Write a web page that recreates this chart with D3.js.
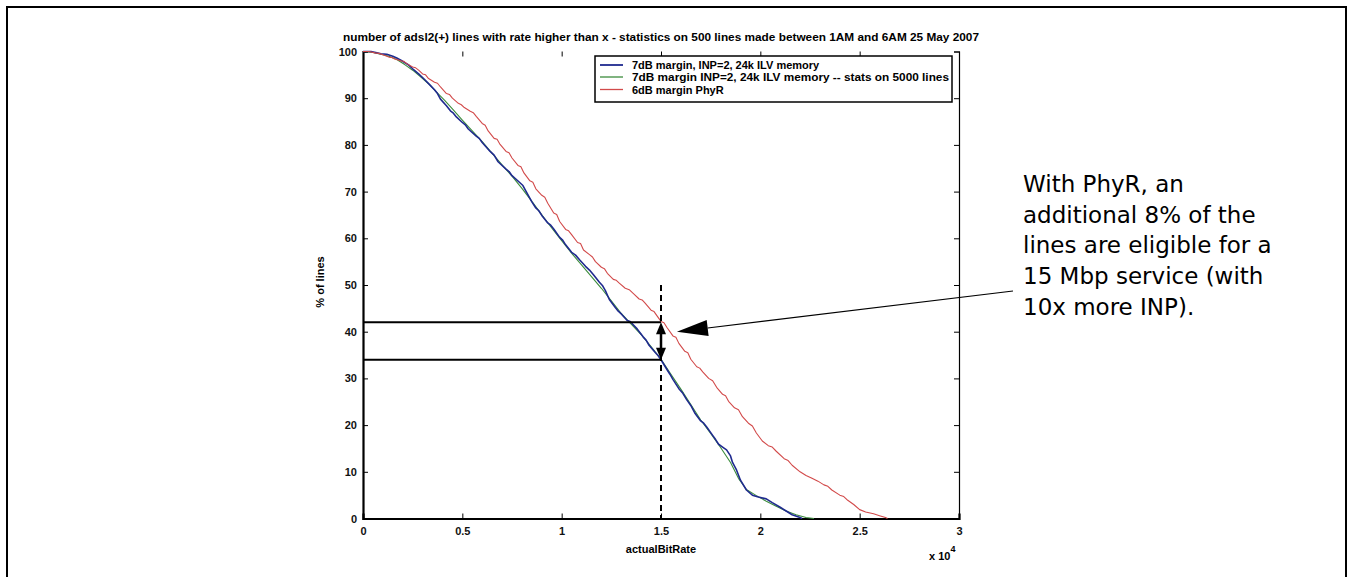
<!DOCTYPE html>
<html>
<head>
<meta charset="utf-8">
<script src="https://cdn.jsdelivr.net/npm/d3@7"></script>
<style>
  body { margin: 0; background: #fff; }
  svg { display: block; }
</style>
</head>
<body>
<script>
// data: [actualBitRate, % of lines with rate higher than x]
const blueSeries = [[0,100],[400,100],[700,99.7],[900,99.5],[1200,99.4],[1500,99.0],[1700,98.6],[2000,97.9],[2300,97.1],[2500,96.3],[2800,95.2],[3100,94.0],[3400,92.7],[3600,91.8],[3750,91.0],[3900,89.8],[4200,88.4],[4400,87.3],[4550,86.8],[4700,86.0],[5000,84.8],[5150,84.3],[5300,83.4],[5700,81.9],[5850,81.4],[6000,80.5],[6400,78.6],[6600,77.8],[6800,76.4],[7200,74.8],[7350,74.3],[7500,73.4],[7900,71.9],[8050,71.3],[8200,70.1],[8500,67.8],[8700,66.5],[8850,65.9],[9000,64.9],[9300,63.3],[9450,62.8],[9600,62.0],[9900,60.2],[10050,59.6],[10200,58.6],[10500,57.0],[10700,56.4],[10900,55.4],[11200,54.0],[11400,53.2],[11600,52.2],[11900,50.6],[12050,49.9],[12200,48.8],[12400,46.9],[12700,45.2],[12850,44.4],[13000,43.8],[13300,42.4],[13450,42.2],[13600,41.5],[13800,40.6],[14100,38.9],[14250,38.2],[14400,37.1],[14700,35.6],[14850,34.9],[15000,34.0],[15300,31.9],[15450,30.9],[15600,29.8],[15900,27.8],[16100,26.8],[16300,25.4],[16500,24.2],[16700,22.6],[17000,20.9],[17150,20.4],[17300,19.6],[17600,17.8],[17750,16.9],[17900,15.9],[18100,15.3],[18300,14.7],[18500,13.4],[18600,12.0],[18800,10.4],[19000,8.2],[19300,6.1],[19600,5.0],[19900,4.6],[20300,4.2],[20600,3.4],[21000,2.4],[21300,1.6],[21600,0.8],[22000,0.2],[22100,0]];

const greenSeries = [[0,100],[500,99.8],[900,99.4],[1300,99.0],[1700,98.3],[2100,97.2],[2500,96.0],[2900,94.6],[3300,93.1],[3700,91.3],[4100,89.6],[4500,87.7],[5000,85.3],[5500,83.0],[6000,80.7],[6500,78.2],[7000,75.7],[7500,73.3],[8000,70.7],[8500,67.9],[9000,65.0],[9500,62.2],[10000,59.5],[10500,56.8],[11000,54.3],[11500,51.8],[12000,49.3],[12500,46.6],[13000,43.9],[13500,41.6],[14000,39.4],[14500,36.8],[15000,34.1],[15500,30.9],[16000,27.7],[16500,24.4],[17000,21.1],[17500,18.2],[18000,15.2],[18500,12.0],[18900,8.6],[19300,6.2],[19800,4.9],[20300,3.7],[20800,2.6],[21300,1.6],[21800,0.8],[22300,0.2],[22700,0]];

const redSeries = [[0,100],[300,100],[600,99.7],[800,99.6],[1000,99.3],[1300,98.8],[1450,98.7],[1600,98.4],[1900,98.0],[2050,97.9],[2200,97.4],[2500,96.7],[2650,96.5],[2800,96.0],[3000,95.2],[3150,95.0],[3300,94.2],[3600,93.4],[3750,93.2],[3900,92.4],[4200,91.0],[4350,90.8],[4500,90.0],[4800,88.9],[4950,88.6],[5100,88.0],[5400,87.2],[5550,86.9],[5700,86.1],[6000,84.6],[6150,84.2],[6300,83.0],[6600,81.4],[6750,81.2],[6900,80.1],[7200,78.6],[7350,78.3],[7500,77.2],[7800,75.6],[7950,75.3],[8100,74.0],[8400,72.3],[8550,72.0],[8700,70.6],[9000,69.2],[9150,68.8],[9300,67.5],[9600,65.4],[9750,65.1],[9900,63.6],[10200,61.9],[10350,61.6],[10500,60.8],[10800,59.1],[10950,58.9],[11100,57.5],[11400,56.5],[11550,56.0],[11700,55.0],[12000,53.8],[12150,53.5],[12300,52.5],[12600,51.2],[12750,51.0],[12900,50.4],[13200,49.3],[13400,49.0],[13600,48.2],[13900,47.0],[14050,46.8],[14200,46.1],[14500,44.6],[14650,44.3],[14800,43.4],[15000,42.2],[15150,41.9],[15300,40.9],[15600,39.1],[15750,38.8],[15900,37.5],[16200,35.8],[16350,35.5],[16500,34.1],[16800,32.5],[16950,32.2],[17100,31.4],[17400,30.0],[17600,29.5],[17800,28.1],[18100,26.6],[18250,26.3],[18400,25.1],[18700,23.7],[18900,23.3],[19100,21.8],[19400,20.4],[19600,19.8],[19800,18.3],[20100,16.6],[20400,15.6],[20600,15.3],[20800,14.4],[21200,12.8],[21400,12.4],[21600,11.4],[22000,10.0],[22300,9.2],[22600,8.6],[22900,8.0],[23200,7.2],[23400,6.9],[23600,6.1],[24000,5.0],[24200,4.7],[24400,3.9],[24700,3.0],[25000,1.9],[25300,1.4],[25700,1.0],[26000,0.6],[26300,0.2],[26400,0]];

const legendLabels = [
  "7dB margin, INP=2, 24k ILV memory",
  "7dB margin INP=2, 24k ILV memory -- stats on 5000 lines",
  "6dB margin PhyR"
];
const seriesColors = ["#1f2a8f", "#3c8c3c", "#d24a4a"];

const xTickValues = [0, 5000, 10000, 15000, 20000, 25000, 30000];
const xTickLabels = ["0", "0.5", "1", "1.5", "2", "2.5", "3"];
const yTickValues = [0, 10, 20, 30, 40, 50, 60, 70, 80, 90, 100];

const refRate = 15000;   // 15 Mbp service
const phyrPct = 42;
const basePct = 34;
const dashTopPct = 50;
const arrowTip = [15800, 40];

const titleText = "number of adsl2(+) lines with rate higher than x - statistics on 500 lines made between 1AM and 6AM 25 May 2007";
const noteLines = ["With PhyR, an", "additional 8% of the", "lines are eligible for a", "15 Mbp service (with", "10x more INP)."];

const W = 1348, H = 577;
const svg = d3.select("body").append("svg").attr("width", W).attr("height", H);

svg.append("rect").attr("width", W).attr("height", H).attr("fill", "#fff");
// outer frame (bottom edge is cut off)
svg.append("path")
  .attr("d", `M7,${H + 5} V7 H1346 V${H + 5}`)
  .attr("fill", "none").attr("stroke", "#000").attr("stroke-width", 2);

const x = d3.scaleLinear().domain([0, 30000]).range([363, 959]);
const y = d3.scaleLinear().domain([0, 100]).range([518.5, 51.5]);

const font = "'Liberation Sans', Arial, sans-serif";

// title
svg.append("text")
  .attr("x", 661).attr("y", 41)
  .attr("text-anchor", "middle")
  .attr("font-family", font).attr("font-size", 11.5).attr("font-weight", "bold")
  .attr("textLength", 636).attr("lengthAdjust", "spacingAndGlyphs")
  .text(titleText);

// axes, matlab style ticks inward
const gx = svg.append("g").attr("transform", `translate(0,${y(0)})`)
  .call(d3.axisBottom(x).tickValues(xTickValues).tickSize(-5).tickPadding(9)
    .tickFormat((d, i) => xTickLabels[i]));
const gy = svg.append("g").attr("transform", `translate(${x(0)},0)`)
  .call(d3.axisLeft(y).tickValues(yTickValues).tickSize(-5).tickPadding(6));
const gr = svg.append("g").attr("transform", `translate(${x(30000)},0)`)
  .call(d3.axisRight(y).tickValues(yTickValues).tickSize(-5).tickFormat(""));
const gt = svg.append("g").attr("transform", `translate(0,${y(100)})`)
  .call(d3.axisTop(x).tickValues(xTickValues).tickSize(-5).tickFormat(""));
gt.select(".domain").remove();
gr.select(".domain").attr("stroke-width", 1.2);

[gx, gy].forEach(g => {
  g.select(".domain").attr("stroke-width", 2.2);
});
[gx, gy, gr, gt].forEach(g => {
  g.selectAll(".tick line").attr("stroke", "#000").attr("stroke-width", 1);
  g.selectAll("text").attr("font-family", font).attr("font-size", 11)
    .attr("font-weight", "bold").attr("fill", "#111");
});

// axis labels
svg.append("text")
  .attr("transform", `translate(324,282) rotate(-90)`)
  .attr("text-anchor", "middle")
  .attr("font-family", font).attr("font-size", 11).attr("font-weight", "bold")
  .text("% of lines");
svg.append("text")
  .attr("x", x(15000)).attr("y", 553)
  .attr("text-anchor", "middle")
  .attr("font-family", font).attr("font-size", 11).attr("font-weight", "bold")
  .text("actualBitRate");
const mult = svg.append("text")
  .attr("x", 929).attr("y", 560)
  .attr("font-family", font).attr("font-size", 11).attr("font-weight", "bold");
mult.append("tspan").text("x 10");
mult.append("tspan").attr("dy", -8).attr("font-size", 9).text("4");

// series
const line = d3.line().x(d => x(d[0])).y(d => y(d[1]));
const allSeries = [blueSeries, greenSeries, redSeries];
const drawOrder = [1, 0, 2];
const widths = [1.6, 1.1, 1.1];
svg.append("g").attr("fill", "none")
  .selectAll("path")
  .data(drawOrder)
  .join("path")
    .attr("d", i => line(allSeries[i]))
    .attr("stroke", i => seriesColors[i])
    .attr("stroke-width", i => widths[i])
    .attr("stroke-linejoin", "round");

// reference lines at 15 Mbp
svg.append("g").attr("stroke", "#000").attr("stroke-width", 2)
  .selectAll("line")
  .data([phyrPct, basePct])
  .join("line")
    .attr("x1", x(0)).attr("x2", x(refRate))
    .attr("y1", d => y(d)).attr("y2", d => y(d));
svg.append("line")
  .attr("x1", x(refRate)).attr("x2", x(refRate))
  .attr("y1", y(dashTopPct)).attr("y2", y(0))
  .attr("stroke", "#000").attr("stroke-width", 2)
  .attr("stroke-dasharray", "6,4");

// double arrow between the two levels
function head(tip, from, len, half) {
  const dx = tip[0] - from[0], dy = tip[1] - from[1];
  const L = Math.hypot(dx, dy), ux = dx / L, uy = dy / L;
  const bx = tip[0] - ux * len, by = tip[1] - uy * len;
  return [[tip[0], tip[1]], [bx - uy * half, by + ux * half], [bx + uy * half, by - ux * half]];
}
const ax = x(refRate), ay1 = y(phyrPct), ay2 = y(basePct);
svg.append("line")
  .attr("x1", ax).attr("x2", ax).attr("y1", ay1 + 8).attr("y2", ay2 - 8)
  .attr("stroke", "#000").attr("stroke-width", 2.5);
svg.append("g").selectAll("polygon")
  .data([head([ax, ay1], [ax, ay2], 12, 5), head([ax, ay2], [ax, ay1], 12, 5)])
  .join("polygon")
    .attr("points", d => d.map(p => p.join(",")).join(" "))
    .attr("fill", "#000");

// annotation arrow + note
const tip = [x(arrowTip[0]), y(arrowTip[1])];
const tail = [1013, 291];
const ah = head(tip, tail, 31, 8);
const base = [(ah[1][0] + ah[2][0]) / 2, (ah[1][1] + ah[2][1]) / 2];
svg.append("line")
  .attr("x1", tail[0]).attr("y1", tail[1]).attr("x2", base[0]).attr("y2", base[1])
  .attr("stroke", "#000").attr("stroke-width", 1.2);
svg.append("polygon")
  .attr("points", ah.map(p => p.join(",")).join(" "))
  .attr("fill", "#000");

svg.append("g")
  .attr("font-family", "'DejaVu Sans', sans-serif").attr("font-size", 23).attr("fill", "#000")
  .selectAll("text")
  .data(noteLines)
  .join("text")
    .attr("x", 1023).attr("y", (d, i) => 192 + i * 30.7)
    .text(d => d);

// legend
const lg = svg.append("g");
lg.append("rect")
  .attr("x", 595).attr("y", 56).attr("width", 357).attr("height", 46)
  .attr("fill", "#fff").attr("stroke", "#000").attr("stroke-width", 1.5);
const rowY = [65, 77, 89.5];
lg.selectAll("line")
  .data(legendLabels)
  .join("line")
    .attr("x1", 600).attr("x2", 623)
    .attr("y1", (d, i) => rowY[i]).attr("y2", (d, i) => rowY[i])
    .attr("stroke", (d, i) => seriesColors[i]).attr("stroke-width", (d, i) => widths[i] + 0.2);
lg.selectAll("text")
  .data(legendLabels)
  .join("text")
    .attr("x", 632).attr("y", (d, i) => rowY[i] + 4)
    .attr("font-family", font).attr("font-size", 11).attr("font-weight", "bold")
    .attr("textLength", (d, i) => i === 1 ? 317 : null).attr("lengthAdjust", "spacingAndGlyphs")
    .text(d => d);
</script>
</body>
</html>
